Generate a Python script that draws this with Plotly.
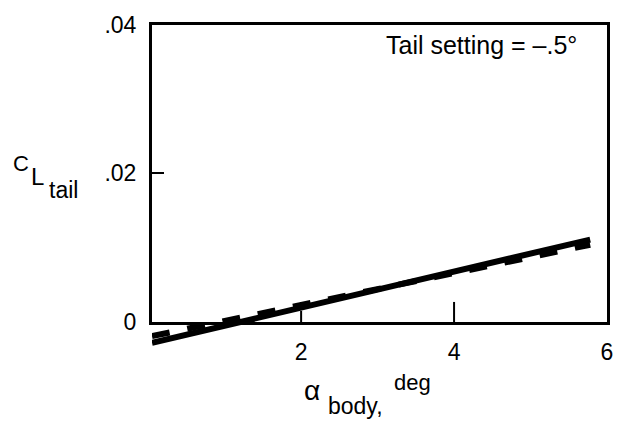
import plotly.graph_objects as go

# Data
alpha_solid = [0.05, 5.78]
cl_solid = [-0.0028, 0.0111]
alpha_dashed = [0.05, 5.78]
cl_dashed = [-0.0019, 0.0104]

x_ticks = [2, 4, 6]
x_ticktext = ["2", "4", "6"]
y_ticks = [0, 0.02, 0.04]
y_ticktext = ["0", ".02", ".04"]

W, H = 620, 426
L, R, T, B = 152, 7, 10, 70
PW, PH = W - L - R, H - T - B
FONT = "Liberation Sans, Arial, sans-serif"

def px(xp):
    return (xp - L) / PW

def py(yp):
    return (H - B - yp) / PH

# frame y pixel positions
frame_top, frame_bot = 15, 321
d0, d1 = py(frame_bot), py(frame_top)
per_px = 0.04 / (frame_bot - frame_top)
y2_range = [0 - (H - B - frame_bot) * per_px, 0.04 + (frame_top - T) * per_px]

fig = go.Figure()
fig.add_trace(go.Scatter(x=alpha_solid, y=cl_solid, mode="lines",
                         line=dict(color="black", width=6),
                         xaxis="x2", yaxis="y2", showlegend=False))
fig.add_trace(go.Scatter(x=alpha_dashed, y=cl_dashed, mode="lines",
                         line=dict(color="black", width=6, dash="dash"),
                         xaxis="x2", yaxis="y2", showlegend=False))

xr = [0.05, 6]
fig.update_layout(
    width=W, height=H,
    margin=dict(l=L, r=R, t=T, b=B),
    paper_bgcolor="white", plot_bgcolor="rgba(0,0,0,0)",
    font=dict(family=FONT, color="black", size=22),
    xaxis=dict(range=xr, domain=[0, 1], anchor="y", tickvals=x_ticks, ticktext=x_ticktext,
               ticks="", showline=True, mirror=True, linewidth=3, linecolor="black",
               showgrid=False, zeroline=False, ticklabelstandoff=7,
               tickfont=dict(size=23)),
    yaxis=dict(range=[0, 0.04], domain=[d0, d1], anchor="x", tickvals=y_ticks, ticktext=y_ticktext,
               ticks="inside", ticklen=12, tickwidth=2, tickcolor="black",
               showline=True, mirror=True, linewidth=3, linecolor="black",
               showgrid=False, zeroline=False, ticklabelstandoff=8,
               tickfont=dict(size=23)),
    xaxis2=dict(range=xr, domain=[0, 1], anchor="y2", visible=False),
    yaxis2=dict(range=y2_range, domain=[0, 1], anchor="x2", visible=False),
)

# short inside ticks on the bottom frame
for xv, ln in [(2, 0.0015), (4, 0.0027)]:
    fig.add_shape(type="line", xref="x", yref="y", x0=xv, x1=xv, y0=0, y1=ln,
                  line=dict(color="black", width=2))

def ann(text, xp, yp, size, xanchor="center"):
    fig.add_annotation(text=text, x=px(xp), y=py(yp), xref="paper", yref="paper",
                       showarrow=False, xanchor=xanchor, yanchor="middle",
                       font=dict(family=FONT, size=size, color="black"))

ann("Tail setting = \u2013.5\u00b0", 486, 36, 25)
ann("C", 19, 158, 22)
ann("L", 36, 171, 24)
ann("tail", 62, 185, 23)
ann("\u03b1", 314, 392, 28)
ann("body,", 358, 407, 23)
ann("deg", 416, 383, 22)

fig.write_html("out.html")
